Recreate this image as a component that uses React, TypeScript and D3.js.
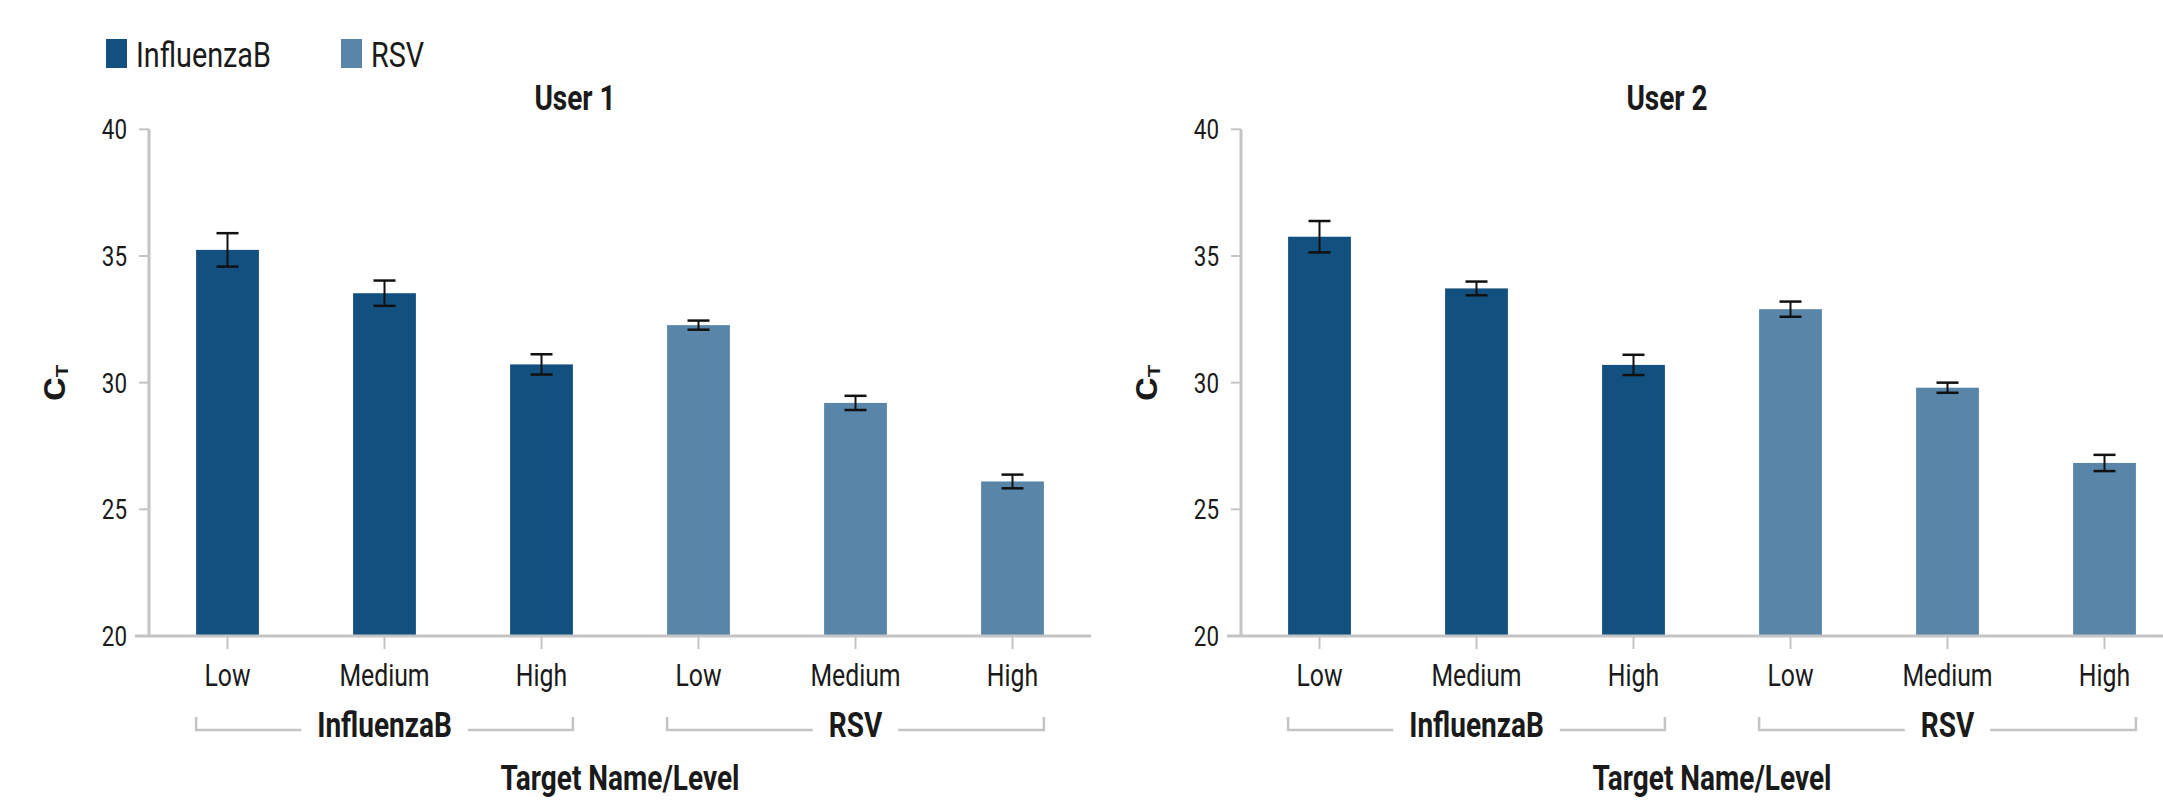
import React from "react";
import * as d3 from "d3";

const levels = ["Low", "Medium", "High"];
const targets = ["InfluenzaB", "RSV"];
const panelTitles = ["User 1", "User 2"];
const user1Means = [35.24, 33.53, 30.72, 32.27, 29.2, 26.1];
const user1Errs = [0.66, 0.5, 0.4, 0.18, 0.28, 0.27];
const user2Means = [35.76, 33.72, 30.7, 32.9, 29.8, 26.83];
const user2Errs = [0.62, 0.27, 0.4, 0.3, 0.2, 0.32];
const yTicks = [20, 25, 30, 35, 40];
const colors: Record<string, string> = { InfluenzaB: "#12507f", RSV: "#5985a8" };

const W = 2163;
const H = 801;
const FONT = "Roboto, 'Noto Sans', sans-serif";
const SX = 0.8;
const TXT = "#1a1a1a";
const AXIS = "#c4c4c4";

function measure(text: string, size: number, weight: number) {
  const c = document.createElement("canvas").getContext("2d");
  if (!c) return text.length * size * 0.5;
  c.font = `${weight} ${size}px Roboto`;
  return c.measureText(text).width * SX;
}

function CText(props: {
  x: number; y: number; size: number; anchor?: string; weight?: number;
  rotate?: number; children: React.ReactNode;
}) {
  const { x, y, size, anchor = "middle", weight = 400, rotate = 0, children } = props;
  return (
    <g transform={`translate(${x},${y}) rotate(${rotate}) scale(${SX},1)`}>
      <text textAnchor={anchor as any} dominantBaseline="central" fontSize={size}
        fontWeight={weight} fontFamily={FONT} fill={TXT}>{children}</text>
    </g>
  );
}

const cats = targets.flatMap((t) => levels.map((l) => ({ target: t, level: l, key: `${t}|${l}` })));

function Panel({ x0, title, means, errs }: { x0: number; title: string; means: number[]; errs: number[] }) {
  const x1 = x0 + 942;
  const yTop = 129.3, yBot = 636;
  const x = d3.scaleBand<string>().domain(cats.map((c) => c.key)).range([x0, x1]).paddingInner(0.6).paddingOuter(0.3);
  const y = d3.scaleLinear().domain([20, 40]).range([yBot, yTop]);
  const bw = x.bandwidth();
  const cap = 11;
  return (
    <g>
      <CText x={x0 + 426} y={98} size={35} weight={700}>{title}</CText>
      {/* y axis */}
      <line x1={x0} x2={x0} y1={yTop} y2={yBot} stroke={AXIS} strokeWidth={3} />
      {yTicks.map((t) => (
        <g key={t}>
          <line x1={x0 - 10} x2={x0} y1={y(t)} y2={y(t)} stroke={AXIS} strokeWidth={2} />
          <CText x={x0 - 22} y={y(t)} size={28} anchor="end">{t}</CText>
        </g>
      ))}
      <g transform={`translate(${x0 - 94},${(yTop + yBot) / 2}) rotate(-90) scale(1,${SX})`}>
        <text textAnchor="middle" dominantBaseline="central" fontSize={36} fontWeight={700} fontFamily={FONT} fill={TXT}>
          C<tspan fontSize={21} dy={9}>T</tspan>
        </text>
      </g>
      {/* bars */}
      {cats.map((c, i) => {
        const bx = x(c.key)!;
        const cx = bx + bw / 2;
        const m = means[i], e = errs[i];
        return (
          <g key={c.key}>
            <rect x={bx} y={y(m)} width={bw} height={yBot - y(m)} fill={colors[c.target]} />
            <line x1={cx} x2={cx} y1={y(m + e)} y2={y(m - e)} stroke="#111" strokeWidth={2} />
            <line x1={cx - cap} x2={cx + cap} y1={y(m + e)} y2={y(m + e)} stroke="#111" strokeWidth={2.5} />
            <line x1={cx - cap} x2={cx + cap} y1={y(m - e)} y2={y(m - e)} stroke="#111" strokeWidth={2.5} />
          </g>
        );
      })}
      {/* x axis */}
      <line x1={x0 - 14} x2={x1} y1={yBot} y2={yBot} stroke={AXIS} strokeWidth={3} />
      {cats.map((c) => {
        const cx = x(c.key)! + bw / 2;
        return (
          <g key={"t" + c.key}>
            <line x1={cx} x2={cx} y1={yBot} y2={yBot + 13} stroke={AXIS} strokeWidth={2} />
            <CText x={cx} y={676} size={31}>{c.level}</CText>
          </g>
        );
      })}
      {targets.map((t) => {
        const keys = cats.filter((c) => c.target === t).map((c) => c.key);
        const gx0 = x(keys[0])!;
        const gx1 = x(keys[keys.length - 1])! + bw;
        const gc = (gx0 + gx1) / 2;
        const half = measure(t, 35, 700) / 2 + 16;
        const by = 730;
        return (
          <g key={"g" + t}>
            <path d={`M${gx0},${by - 13}V${by}H${gc - half}`} fill="none" stroke={AXIS} strokeWidth={2.5} />
            <path d={`M${gx1},${by - 13}V${by}H${gc + half}`} fill="none" stroke={AXIS} strokeWidth={2.5} />
            <CText x={gc} y={by - 5} size={35} weight={700}>{t}</CText>
          </g>
        );
      })}
      <CText x={(x0 + x1) / 2} y={778} size={35} weight={700}>Target Name/Level</CText>
    </g>
  );
}

export default function App() {
  return (
    <svg width={W} height={H} style={{ position: "absolute", left: 0, top: 0, background: "#fff" }}>
      <rect width={W} height={H} fill="#fff" />
      {/* legend */}
      {targets.map((t, i) => {
        const lx = i === 0 ? 106 : 341;
        return (
          <g key={"l" + t}>
            <rect x={lx} y={39} width={21} height={29} fill={colors[t]} />
            <CText x={lx + 30} y={55} size={36} anchor="start">{t}</CText>
          </g>
        );
      })}
      <Panel x0={149} title={panelTitles[0]} means={user1Means} errs={user1Errs} />
      <Panel x0={1241} title={panelTitles[1]} means={user2Means} errs={user2Errs} />
    </svg>
  );
}
